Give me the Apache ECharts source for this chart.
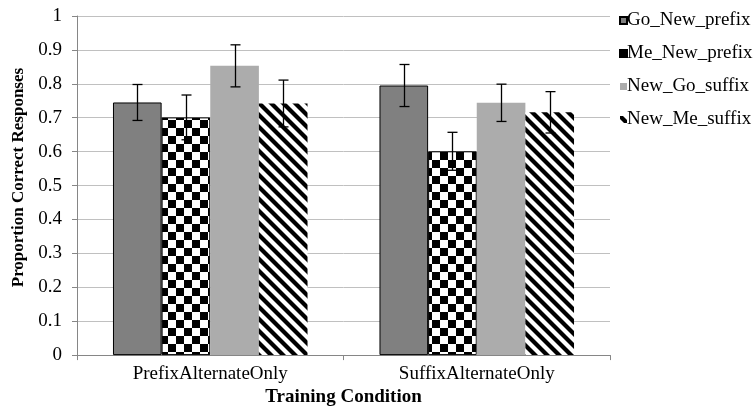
<!DOCTYPE html>
<html><head><meta charset="utf-8">
<script src="https://cdn.jsdelivr.net/npm/echarts@6/dist/echarts.min.js"></script>
<style>html,body{margin:0;padding:0;background:#fff}#c{width:756px;height:412px}</style>
</head><body><div id="c"></div>
<script>
var categories = ['PrefixAlternateOnly', 'SuffixAlternateOnly'];
var seriesNames = ['Go_New_prefix', 'Me_New_prefix', 'New_Go_suffix', 'New_Me_suffix'];
var goNewPrefix = [0.745, 0.795];
var meNewPrefix = [0.701, 0.601];
var newGoSuffix = [0.853, 0.744];
var newMeSuffix = [0.742, 0.716];
var errGoNewPrefix = [0.053, 0.062];
var errMeNewPrefix = [0.066, 0.056];
var errNewGoSuffix = [0.062, 0.055];
var errNewMeSuffix = [0.069, 0.061];
var yTicks = [0, 0.1, 0.2, 0.3, 0.4, 0.5, 0.6, 0.7, 0.8, 0.9, 1];

var values = [goNewPrefix, meNewPrefix, newGoSuffix, newMeSuffix];
var errors = [errGoNewPrefix, errMeNewPrefix, errNewGoSuffix, errNewMeSuffix];

function checker() {
  var c = document.createElement('canvas'); c.width = 16; c.height = 16;
  var g = c.getContext('2d');
  g.fillStyle = '#fff'; g.fillRect(0, 0, 16, 16);
  g.fillStyle = '#000'; g.fillRect(0, 0, 8, 8); g.fillRect(8, 8, 8, 8);
  return c;
}
function stripes() {
  var c = document.createElement('canvas'); c.width = 12; c.height = 12;
  var g = c.getContext('2d');
  g.fillStyle = '#fff'; g.fillRect(0, 0, 12, 12);
  g.strokeStyle = '#000'; g.lineWidth = 4.2;
  for (var k = -2; k <= 2; k++) {
    g.beginPath(); g.moveTo(-12, -12 + 12 * k); g.lineTo(24, 24 + 12 * k); g.stroke();
  }
  return c;
}
var styles = [
  { color: '#808080', borderColor: '#000', borderWidth: 1 },
  { color: { image: checker(), repeat: 'repeat' }, borderColor: '#000', borderWidth: 1 },
  { color: '#acacac' },
  { color: { image: stripes(), repeat: 'repeat' } }
];

var font = '"Liberation Serif", "Times New Roman", serif';
var gapRatio = 0.27;

var series = seriesNames.map(function (n, i) {
  return {
    name: n, type: 'bar', data: values[i], barGap: '0%', barCategoryGap: (gapRatio * 100) + '%',
    itemStyle: styles[i], emphasis: { disabled: true }
  };
});

series.push({
  type: 'custom', name: 'err', silent: true, z: 10,
  data: categories.map(function (c, ci) { return [ci]; }),
  renderItem: function (params, api) {
    var ci = api.value(0);
    var band = api.size([1, 0])[0];
    var bw = band * (1 - gapRatio) / 4;
    var children = [];
    for (var i = 0; i < 4; i++) {
      var v = values[i][ci], e = errors[i][ci];
      var top = api.coord([ci, v + e]);
      var bot = api.coord([ci, v - e]);
      var x = Math.round(top[0] + (i - 1.5) * bw) + 0.5;
      var st = { stroke: '#000', lineWidth: 1.3 };
      children.push({ type: 'line', shape: { x1: x, y1: top[1], x2: x, y2: bot[1] }, style: st });
      children.push({ type: 'line', shape: { x1: x - 5, y1: top[1], x2: x + 5, y2: top[1] }, style: st });
      children.push({ type: 'line', shape: { x1: x - 5, y1: bot[1], x2: x + 5, y2: bot[1] }, style: st });
    }
    return { type: 'group', children: children };
  }
});

var chart = echarts.init(document.getElementById('c'), null, { renderer: 'canvas' });
chart.setOption({
  animation: false,
  backgroundColor: '#fff',
  grid: { left: 77, right: 146, top: 16, bottom: 55 },
  legend: {
    data: seriesNames, orient: 'vertical', left: 614, top: 6,
    itemWidth: 7, itemHeight: 7, itemGap: 14,
    icon: 'rect',
    textStyle: { fontFamily: font, fontSize: 19, color: '#000', padding: [0, 0, 0, -5] }
  },
  xAxis: {
    type: 'category', data: categories,
    axisLine: { lineStyle: { color: '#868686' } },
    axisTick: { show: true, length: 5, lineStyle: { color: '#868686' } },
    axisLabel: { fontFamily: font, fontSize: 19, color: '#000', margin: 9 },
    name: 'Training Condition', nameLocation: 'middle', nameGap: 30,
    nameTextStyle: { fontFamily: font, fontSize: 19, fontWeight: 'bold', color: '#000' }
  },
  yAxis: {
    type: 'value', min: 0, max: 1, interval: 0.1,
    axisLine: { show: true, lineStyle: { color: '#868686' } },
    axisTick: { show: true, length: 5, lineStyle: { color: '#868686' } },
    splitLine: { lineStyle: { color: '#c0c0c0' } },
    axisLabel: { fontFamily: font, fontSize: 19, color: '#000', margin: 15,
      formatter: function (v) { var t = yTicks.filter(function (y) { return Math.abs(y - v) < 1e-9; }); return t.length ? String(t[0]) : ''; } },
    name: 'Proportion Correct Responses', nameLocation: 'middle', nameGap: 46,
    nameTextStyle: { fontFamily: font, fontSize: 17, fontWeight: 'bold', color: '#000', padding: [0, 0, 0, 16] }
  },
  series: series
});
</script>
</body></html>
